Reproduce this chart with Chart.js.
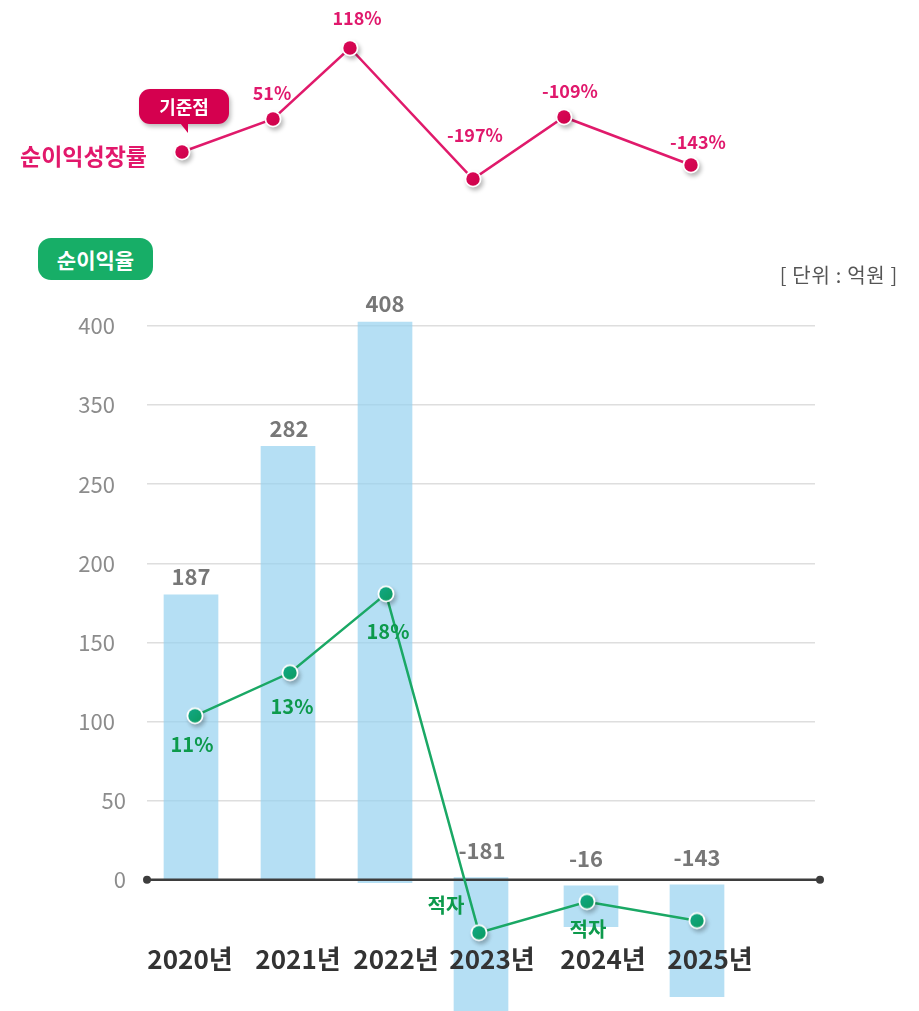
<!DOCTYPE html>
<html><head><meta charset="utf-8">
<script src="https://cdn.jsdelivr.net/npm/chart.js@4.4.1/dist/chart.umd.min.js"></script>
<style>
html,body{margin:0;padding:0;background:#fff;}
body{width:919px;height:1011px;position:relative;overflow:hidden;font-family:"Noto Sans CJK KR","Noto Sans",sans-serif;}
#wrapBottom{position:absolute;left:0;top:0;width:919px;height:1011px;}
#wrapTop{position:absolute;left:0;top:0;width:919px;height:215px;}
.title{position:absolute;left:20px;top:141px;font-size:23px;line-height:28px;font-weight:700;color:#e2186b;}
.callout{position:absolute;left:139px;top:89px;width:90px;height:35px;background:#d5004f;border-radius:11px;color:#fff;font-weight:700;font-size:18px;line-height:35px;text-align:center;box-shadow:2px 3px 4px rgba(0,0,0,.25);}
.callout:after{content:"";position:absolute;left:41px;top:34px;width:0;height:0;border-left:8px solid transparent;border-top:10px solid #d5004f;}
.badge{position:absolute;left:38px;top:238px;width:115px;height:42px;background:#17ae67;border-radius:13px;color:#fff;font-weight:700;font-size:21px;line-height:42px;text-align:center;}
.unit{position:absolute;right:21px;top:261px;font-size:20px;line-height:28px;color:#555;letter-spacing:0.7px;}
</style>
</head><body>
<div id="wrapBottom"><canvas id="bottom" width="919" height="1011"></canvas></div>
<div id="wrapTop"><canvas id="top" width="919" height="215"></canvas></div>
<div class="title">순이익성장률</div>
<div class="callout">기준점</div>
<div class="badge">순이익율</div>
<div class="unit">[ 단위 : 억원 ]</div>
<script>
// ---- data ----
const years = ['2020년','2021년','2022년','2023년','2024년','2025년'];
const profitLabels = ['187','282','408','-181','-16','-143'];
const profitBarStart = [0, 0, -1.9, 1.3, -3.8, -3.2];
const profitBarEnd = [180, 274, 352.5, -83, -29.7, -73.9];
const marginValues = [103.6, 130.8, 180.7, -33.5, -13.9, -25.9];
const marginLabels = ['11%','13%','18%','적자','적자',''];
const growthValues = [0, 33, 104, -27, 35, -13];
const growthLabels = ['', '51%', '118%', '-197%', '-109%', '-143%'];
const yTickValues = [0,50,100,150,200,250,300,350];
const yTickLabels = ['0','50','100','150','200','250','350','400'];

// ---- layout (positions / styling) ----
const barSlots = [0, 0.97, 1.94, 2.90, 4.00, 5.06];
const pointSlots = [0.04, 0.99, 1.95, 2.88, 3.96, 5.06];
const yearLabelSlots = [-0.01, 1.07, 2.05, 3.01, 4.12, 5.19];
const growthSlots = [-0.09, 0.82, 1.59, 2.82, 3.73, 5.00];
const valueLabelDx = [0, 1, 0, 1, -5, 0];
const marginLabelDx = [-3, 2, 2, -33, 1, 0];
const marginLabelDy = [29, 34, 38, -27, 28, 0];
const growthLabelDx = [0, -1, 7, 2, 6, 7];
const growthLabelDy = [0, -26, -30, -44, -26, -23];
const FONT = '"Noto Sans CJK KR","Noto Sans",sans-serif';

function makeDot(fillA, fillB, r){
  const c = document.createElement('canvas'); c.width = 40; c.height = 40;
  const g = c.getContext('2d');
  g.shadowColor = 'rgba(0,0,0,0.28)'; g.shadowBlur = 4; g.shadowOffsetX = 2; g.shadowOffsetY = 3;
  g.beginPath(); g.arc(20,20,r,0,Math.PI*2); g.fillStyle = '#fff'; g.fill();
  g.shadowColor = 'transparent';
  const gr = g.createLinearGradient(20-r,20-r,20+r,20+r);
  gr.addColorStop(0, fillA); gr.addColorStop(1, fillB);
  g.beginPath(); g.arc(20,20,r-1.8,0,Math.PI*2); g.fillStyle = gr; g.fill();
  return c;
}
const greenDot = makeDot('#13a98c', '#0b9a5a', 8.5);
const pinkDot = makeDot('#dc0a5a', '#cc0048', 8.5);

const bottomPlugin = {
  id: 'bottomDeco',
  afterDatasetDraw(chart, args){
    if (args.index !== 0) return;
    const ctx = chart.ctx, ys = chart.scales.y, a = chart.chartArea;
    const y0 = ys.getPixelForValue(0);
    ctx.save();
    ctx.strokeStyle = '#3d3d3d'; ctx.lineWidth = 2.5;
    ctx.beginPath(); ctx.moveTo(a.left, y0); ctx.lineTo(a.right + 5, y0); ctx.stroke();
    ctx.fillStyle = '#3d3d3d';
    [a.left, a.right + 5].forEach(x => { ctx.beginPath(); ctx.arc(x, y0, 4, 0, Math.PI*2); ctx.fill(); });
    ctx.restore();
  },
  afterDatasetsDraw(chart){
    const ctx = chart.ctx;
    ctx.save();
    ctx.textAlign = 'center'; ctx.textBaseline = 'middle';
    ctx.font = '700 22px ' + FONT; ctx.fillStyle = '#777';
    chart.getDatasetMeta(0).data.forEach((b, i) => {
      const top = Math.min(b.y, b.base);
      const dy = profitBarEnd[i] > 0 ? -18 : -27;
      ctx.fillText(profitLabels[i], b.x + valueLabelDx[i], top + dy);
    });
    ctx.font = '700 20px ' + FONT; ctx.fillStyle = '#0d9a4c';
    chart.getDatasetMeta(1).data.forEach((p, i) => {
      if (!marginLabels[i]) return;
      ctx.fillText(marginLabels[i], p.x + marginLabelDx[i], p.y + marginLabelDy[i]);
    });
    ctx.restore();
  }
};

new Chart(document.getElementById('bottom'), {
  type: 'bar',
  data: {
    datasets: [
      { type: 'bar', xAxisID: 'x', yAxisID: 'y', order: 2, clip: false,
        data: barSlots.map((x, i) => ({ x, y: [profitBarStart[i], profitBarEnd[i]] })),
        backgroundColor: 'rgba(150,210,240,0.7)', borderWidth: 0, barThickness: 54 },
      { type: 'line', xAxisID: 'x', yAxisID: 'y', order: 1, clip: false,
        data: pointSlots.map((x, i) => ({ x, y: marginValues[i] })),
        borderColor: '#1aa865', borderWidth: 2.5, tension: 0, fill: false,
        pointStyle: greenDot, pointRadius: 9 }
    ]
  },
  options: {
    responsive: false, animation: false, events: [],
    layout: { autoPadding: false, padding: { top: 326, right: 104, left: 0, bottom: 0 } },
    plugins: { legend: { display: false }, tooltip: { enabled: false } },
    scales: {
      x: { type: 'linear', min: -0.44, max: 6.24, offset: false, display: false },
      xl: { type: 'linear', axis: 'x', position: { y: 0 }, min: -0.44, max: 6.24, offset: false,
        grid: { display: false, drawTicks: false }, border: { display: false },
        afterBuildTicks(s){ s.ticks = yearLabelSlots.map(v => ({ value: v })); },
        ticks: { z: 2, autoSkip: false, maxRotation: 0, padding: 64, color: '#333',
          font: { family: FONT, size: 26, weight: '700' },
          callback: (v, i) => years[i] } },
      y: { type: 'linear', min: -83, max: 350,
        afterFit(s){ s.width = 147; s.paddingTop = 0; s.paddingBottom = 0; },
        afterBuildTicks(s){ s.ticks = yTickValues.map(v => ({ value: v })); },
        grid: { drawTicks: false, lineWidth: 1.5,
          color: c => (c.tick && c.tick.value === 0) ? 'rgba(0,0,0,0)' : '#dedede' },
        border: { display: false },
        ticks: { padding: 21, color: '#8c8c8c', font: { family: FONT, size: 22 },
          callback: (v, i) => yTickLabels[i].length >= 3 ? yTickLabels[i] + '\u2002' : yTickLabels[i] } }
    }
  },
  plugins: [bottomPlugin]
});

const topPlugin = {
  id: 'topDeco',
  afterDatasetsDraw(chart){
    const ctx = chart.ctx;
    ctx.save();
    ctx.textAlign = 'center'; ctx.textBaseline = 'middle';
    ctx.font = '700 18px ' + FONT; ctx.fillStyle = '#e0186c';
    chart.getDatasetMeta(0).data.forEach((p, i) => {
      if (!growthLabels[i]) return;
      ctx.fillText(growthLabels[i], p.x + growthLabelDx[i], p.y + growthLabelDy[i]);
    });
    ctx.restore();
  }
};

new Chart(document.getElementById('top'), {
  type: 'line',
  data: {
    datasets: [{
      data: growthSlots.map((x, i) => ({ x, y: growthValues[i] })),
      borderColor: '#e01a6b', borderWidth: 2.5, tension: 0, fill: false, clip: false,
      pointStyle: pinkDot, pointRadius: 9
    }]
  },
  options: {
    responsive: false, animation: false, events: [],
    layout: { autoPadding: false, padding: 0 },
    plugins: { legend: { display: false }, tooltip: { enabled: false } },
    scales: {
      x: { type: 'linear', min: -1.91, max: 7.28, display: false },
      y: { type: 'linear', min: -63, max: 152, display: false }
    }
  },
  plugins: [topPlugin]
});
</script>
</body></html>
